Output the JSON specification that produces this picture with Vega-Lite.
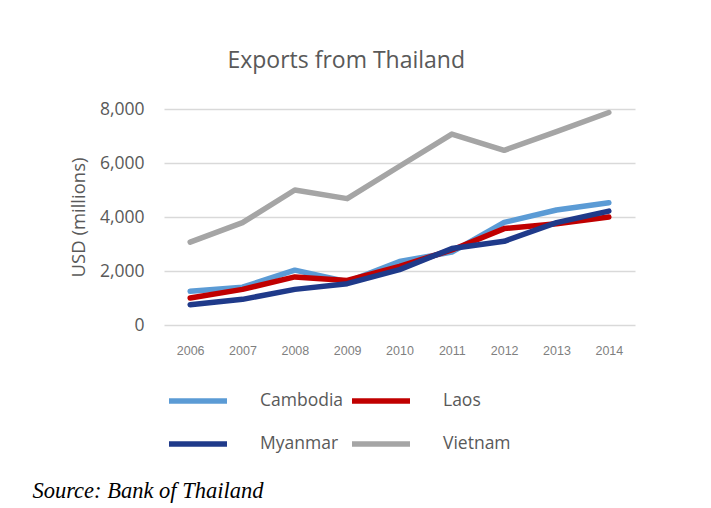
{
  "$schema": "https://vega.github.io/schema/vega-lite/v6.json",
  "background": "white",
  "padding": {"left": 32, "top": 50, "right": 10, "bottom": 2},
  "config": {"view": {"stroke": null}, "font": "Open Sans"},
  "title": {
    "text": "Source: Bank of Thailand",
    "orient": "bottom",
    "anchor": "start",
    "frame": "bounds",
    "font": "Liberation Serif",
    "fontStyle": "italic",
    "fontWeight": "normal",
    "fontSize": 22.5,
    "color": "#000000",
    "offset": 25,
    "dx": -37
  },
  "vconcat": [
    {
      "title": {
        "text": "Exports from Thailand",
        "anchor": "middle",
        "frame": "bounds",
        "font": "Open Sans",
        "fontSize": 23,
        "fontWeight": "normal",
        "color": "#595959",
        "offset": 27,
        "dx": -6
      },
      "width": 471,
      "height": 216,
      "data": {
        "values": [
          {"year": "2006", "country": "Cambodia", "value": 1250},
          {"year": "2007", "country": "Cambodia", "value": 1400},
          {"year": "2008", "country": "Cambodia", "value": 2030},
          {"year": "2009", "country": "Cambodia", "value": 1600},
          {"year": "2010", "country": "Cambodia", "value": 2350},
          {"year": "2011", "country": "Cambodia", "value": 2700},
          {"year": "2012", "country": "Cambodia", "value": 3800},
          {"year": "2013", "country": "Cambodia", "value": 4260},
          {"year": "2014", "country": "Cambodia", "value": 4530},
          {"year": "2006", "country": "Laos", "value": 1000},
          {"year": "2007", "country": "Laos", "value": 1320},
          {"year": "2008", "country": "Laos", "value": 1780},
          {"year": "2009", "country": "Laos", "value": 1650},
          {"year": "2010", "country": "Laos", "value": 2170},
          {"year": "2011", "country": "Laos", "value": 2780},
          {"year": "2012", "country": "Laos", "value": 3570},
          {"year": "2013", "country": "Laos", "value": 3750},
          {"year": "2014", "country": "Laos", "value": 4000},
          {"year": "2006", "country": "Myanmar", "value": 750},
          {"year": "2007", "country": "Myanmar", "value": 950},
          {"year": "2008", "country": "Myanmar", "value": 1320},
          {"year": "2009", "country": "Myanmar", "value": 1530},
          {"year": "2010", "country": "Myanmar", "value": 2050},
          {"year": "2011", "country": "Myanmar", "value": 2830},
          {"year": "2012", "country": "Myanmar", "value": 3100},
          {"year": "2013", "country": "Myanmar", "value": 3790},
          {"year": "2014", "country": "Myanmar", "value": 4220},
          {"year": "2006", "country": "Vietnam", "value": 3070},
          {"year": "2007", "country": "Vietnam", "value": 3790},
          {"year": "2008", "country": "Vietnam", "value": 5000},
          {"year": "2009", "country": "Vietnam", "value": 4680},
          {"year": "2010", "country": "Vietnam", "value": 5880},
          {"year": "2011", "country": "Vietnam", "value": 7070},
          {"year": "2012", "country": "Vietnam", "value": 6470},
          {"year": "2013", "country": "Vietnam", "value": 7160},
          {"year": "2014", "country": "Vietnam", "value": 7870}
        ]
      },
      "mark": {"type": "line", "strokeWidth": 5.5, "strokeCap": "round", "strokeJoin": "round"},
      "encoding": {
        "x": {
          "field": "year",
          "type": "ordinal",
          "scale": {"type": "point", "padding": 0.5},
          "axis": {
            "title": null,
            "labelAngle": 0,
            "labelFont": "Liberation Sans",
            "labelFontSize": 12.5,
            "labelColor": "#7f7f7f",
            "labelPadding": 19,
            "domain": false,
            "ticks": false,
            "grid": false
          }
        },
        "y": {
          "field": "value",
          "type": "quantitative",
          "scale": {"domain": [0, 8000], "nice": false},
          "axis": {
            "title": "USD (millions)",
            "titleFont": "Open Sans",
            "titleFontSize": 18.5,
            "titleFontWeight": "normal",
            "titleColor": "#595959",
            "titlePadding": 11,
            "values": [0, 2000, 4000, 6000, 8000],
            "format": ",d",
            "labelFont": "Open Sans",
            "labelFontSize": 17.5,
            "labelColor": "#595959",
            "labelPadding": 20,
            "domain": false,
            "ticks": false,
            "grid": true,
            "gridColor": "#d9d9d9",
            "gridWidth": 1.5
          }
        },
        "color": {
          "field": "country",
          "type": "nominal",
          "scale": {
            "domain": ["Cambodia", "Laos", "Myanmar", "Vietnam"],
            "range": ["#5b9bd5", "#c00000", "#1f3a8a", "#a5a5a5"]
          },
          "legend": {
            "title": null,
            "orient": "none",
            "legendX": 2,
            "legendY": 260,
            "direction": "horizontal",
            "columns": 2,
            "symbolType": "stroke",
            "symbolSize": 3364,
            "symbolStrokeWidth": 5.5,
            "labelFont": "Open Sans",
            "labelFontSize": 17.5,
            "labelColor": "#595959",
            "labelOffset": 30,
            "columnPadding": -3,
            "rowPadding": -21
          }
        }
      }
    }
  ]
}
